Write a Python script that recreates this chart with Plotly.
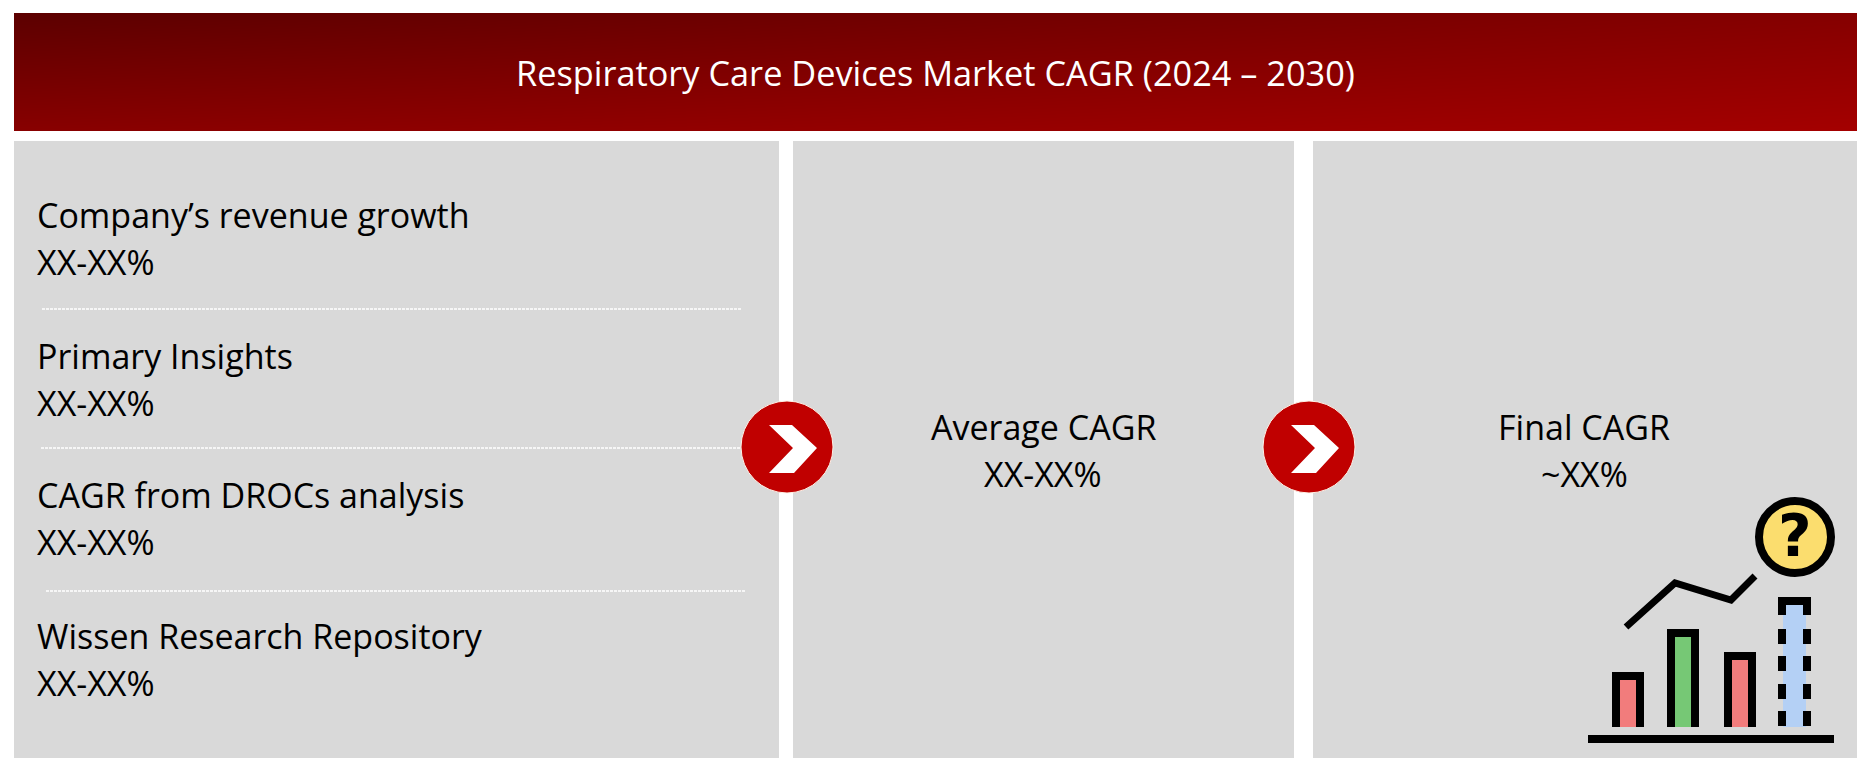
import plotly.graph_objects as go

titulo = 'Respiratory Care Devices Market CAGR (2024 – 2030)'
fuentes = ['Company’s revenue growth', 'Primary Insights', 'CAGR from DROCs analysis', 'Wissen Research Repository']
rangos = ['XX-XX%', 'XX-XX%', 'XX-XX%', 'XX-XX%']
promedio = ['Average CAGR', 'XX-XX%']
final = ['Final CAGR', '~XX%']

# icono de abajo a la derecha
barras_altura = [55, 98, 75]
barras_color = ['#F27C7C', '#76C875', '#F27C7C']
linea_x = [1626, 1675, 1731, 1755]
linea_y = [627, 583, 600, 576]

FUENTE = 'Open Sans'
W, H = 1870, 769

fig = go.Figure()

# cabecera con degradado diagonal: centros de celda en las esquinas, lo que sobra se tapa despues
fig.add_trace(go.Heatmap(
    x=[-907.5, 935.5, 2778.5], y=[-46, 72, 190], z=[[0, 0.57], [0.61, 1]],
    zsmooth='best', showscale=False, hoverinfo='skip',
    colorscale=[[0, '#5C0000'], [1, '#A40000']],
))


def caja(x0, y0, x1, y1, color):
    # rectangulo como traza, para que quede debajo de la linea del icono
    fig.add_trace(go.Scatter(x=[x0, x1, x1, x0, x0], y=[y0, y0, y1, y1, y0], mode='none',
                             fill='toself', fillcolor=color, hoverinfo='skip'))


def rect(x0, y0, x1, y1, color):
    fig.add_shape(type='rect', x0=x0, y0=y0, x1=x1, y1=y1, fillcolor=color, line=dict(width=0))


# mascaras blancas alrededor de la cabecera
caja(0, 0, W, 13, 'white')
caja(0, 131, W, 200, 'white')
caja(0, 0, 14, 200, 'white')
caja(1857, 0, W, 200, 'white')

# paneles grises
for x0, x1 in [(14, 779), (793, 1294), (1313, 1857)]:
    caja(x0, 141, x1, 758, '#D9D9D9')

# separadores punteados
for x0, x1, y in [(42, 742, 309), (41, 740, 448), (46, 746, 591)]:
    fig.add_shape(type='line', x0=x0, x1=x1, y0=y, y1=y, line=dict(color='white', width=1.5, dash='3px 1px'))

# circulos con flecha
for cx in [787, 1309]:
    fig.add_shape(type='circle', x0=cx - 46, x1=cx + 46, y0=401, y1=493, fillcolor='#C00000',
                  line=dict(color='#FFF3E8', width=1))
    path = f'M {cx-18} 425 L {cx+5} 425 L {cx+30} 448 L {cx+7} 473 L {cx-18} 473 L {cx+6} 448 Z'
    fig.add_shape(type='path', path=path, fillcolor='white', line=dict(width=0))

# icono: barras
base = 727
for x0, alto, color in zip([1612, 1667, 1724], barras_altura, barras_color):
    top = base - alto + 4
    rect(x0 + 4, top, x0 + 28, base, color)
    fig.add_shape(type='path', path=f'M {x0+4} {base} L {x0+4} {top} L {x0+28} {top} L {x0+28} {base}',
                  line=dict(color='black', width=8))
# barra punteada
rect(1783, 600, 1806, 727, '#B4D0F5')
fig.add_shape(type='path', path='M 1782 615 L 1782 601 L 1807 601 L 1807 615', line=dict(color='black', width=8))
for y0 in [629, 656, 684, 711]:
    for x in [1782, 1807]:
        fig.add_shape(type='line', x0=x, x1=x, y0=y0, y1=y0 + 15, line=dict(color='black', width=8))
rect(1588, 735, 1834, 743, 'black')

fig.add_trace(go.Scatter(x=linea_x, y=linea_y, mode='lines', hoverinfo='skip',
                         line=dict(color='black', width=7)))
fig.add_shape(type='circle', x0=1759, x1=1831, y0=501, y1=573, fillcolor='#FBDD6E',
              line=dict(color='black', width=8))


def texto(x, y, s, size=34, color='black', anchor='left', family=FUENTE):
    fig.add_annotation(x=x, y=y, text=s, showarrow=False, xanchor=anchor, yanchor='middle',
                       font=dict(family=family, size=size, color=color))


texto(1795, 536, '<b>?</b>', size=58, anchor='center', family='DejaVu Sans')
texto(935, 72, titulo, size=34.3, color='white', anchor='center')

fila_y = [215, 356, 495, 636]
for s, r, y in zip(fuentes, rangos, fila_y):
    texto(35, y, s)
    texto(35, y + 47, r)

texto(1043, 427, promedio[0], anchor='center')
texto(1043, 474, promedio[1], anchor='center')
texto(1584, 427, final[0], anchor='center')
texto(1584, 474, final[1], anchor='center')

fig.update_layout(
    width=W, height=H, margin=dict(l=0, r=0, t=0, b=0),
    paper_bgcolor='white', plot_bgcolor='white', showlegend=False,
)
fig.update_xaxes(range=[0, W], visible=False, fixedrange=True)
fig.update_yaxes(range=[H, 0], visible=False, fixedrange=True)

fig.write_html('out.html', config=dict(displayModeBar=False),
               post_script="document.body.style.margin='0';")
